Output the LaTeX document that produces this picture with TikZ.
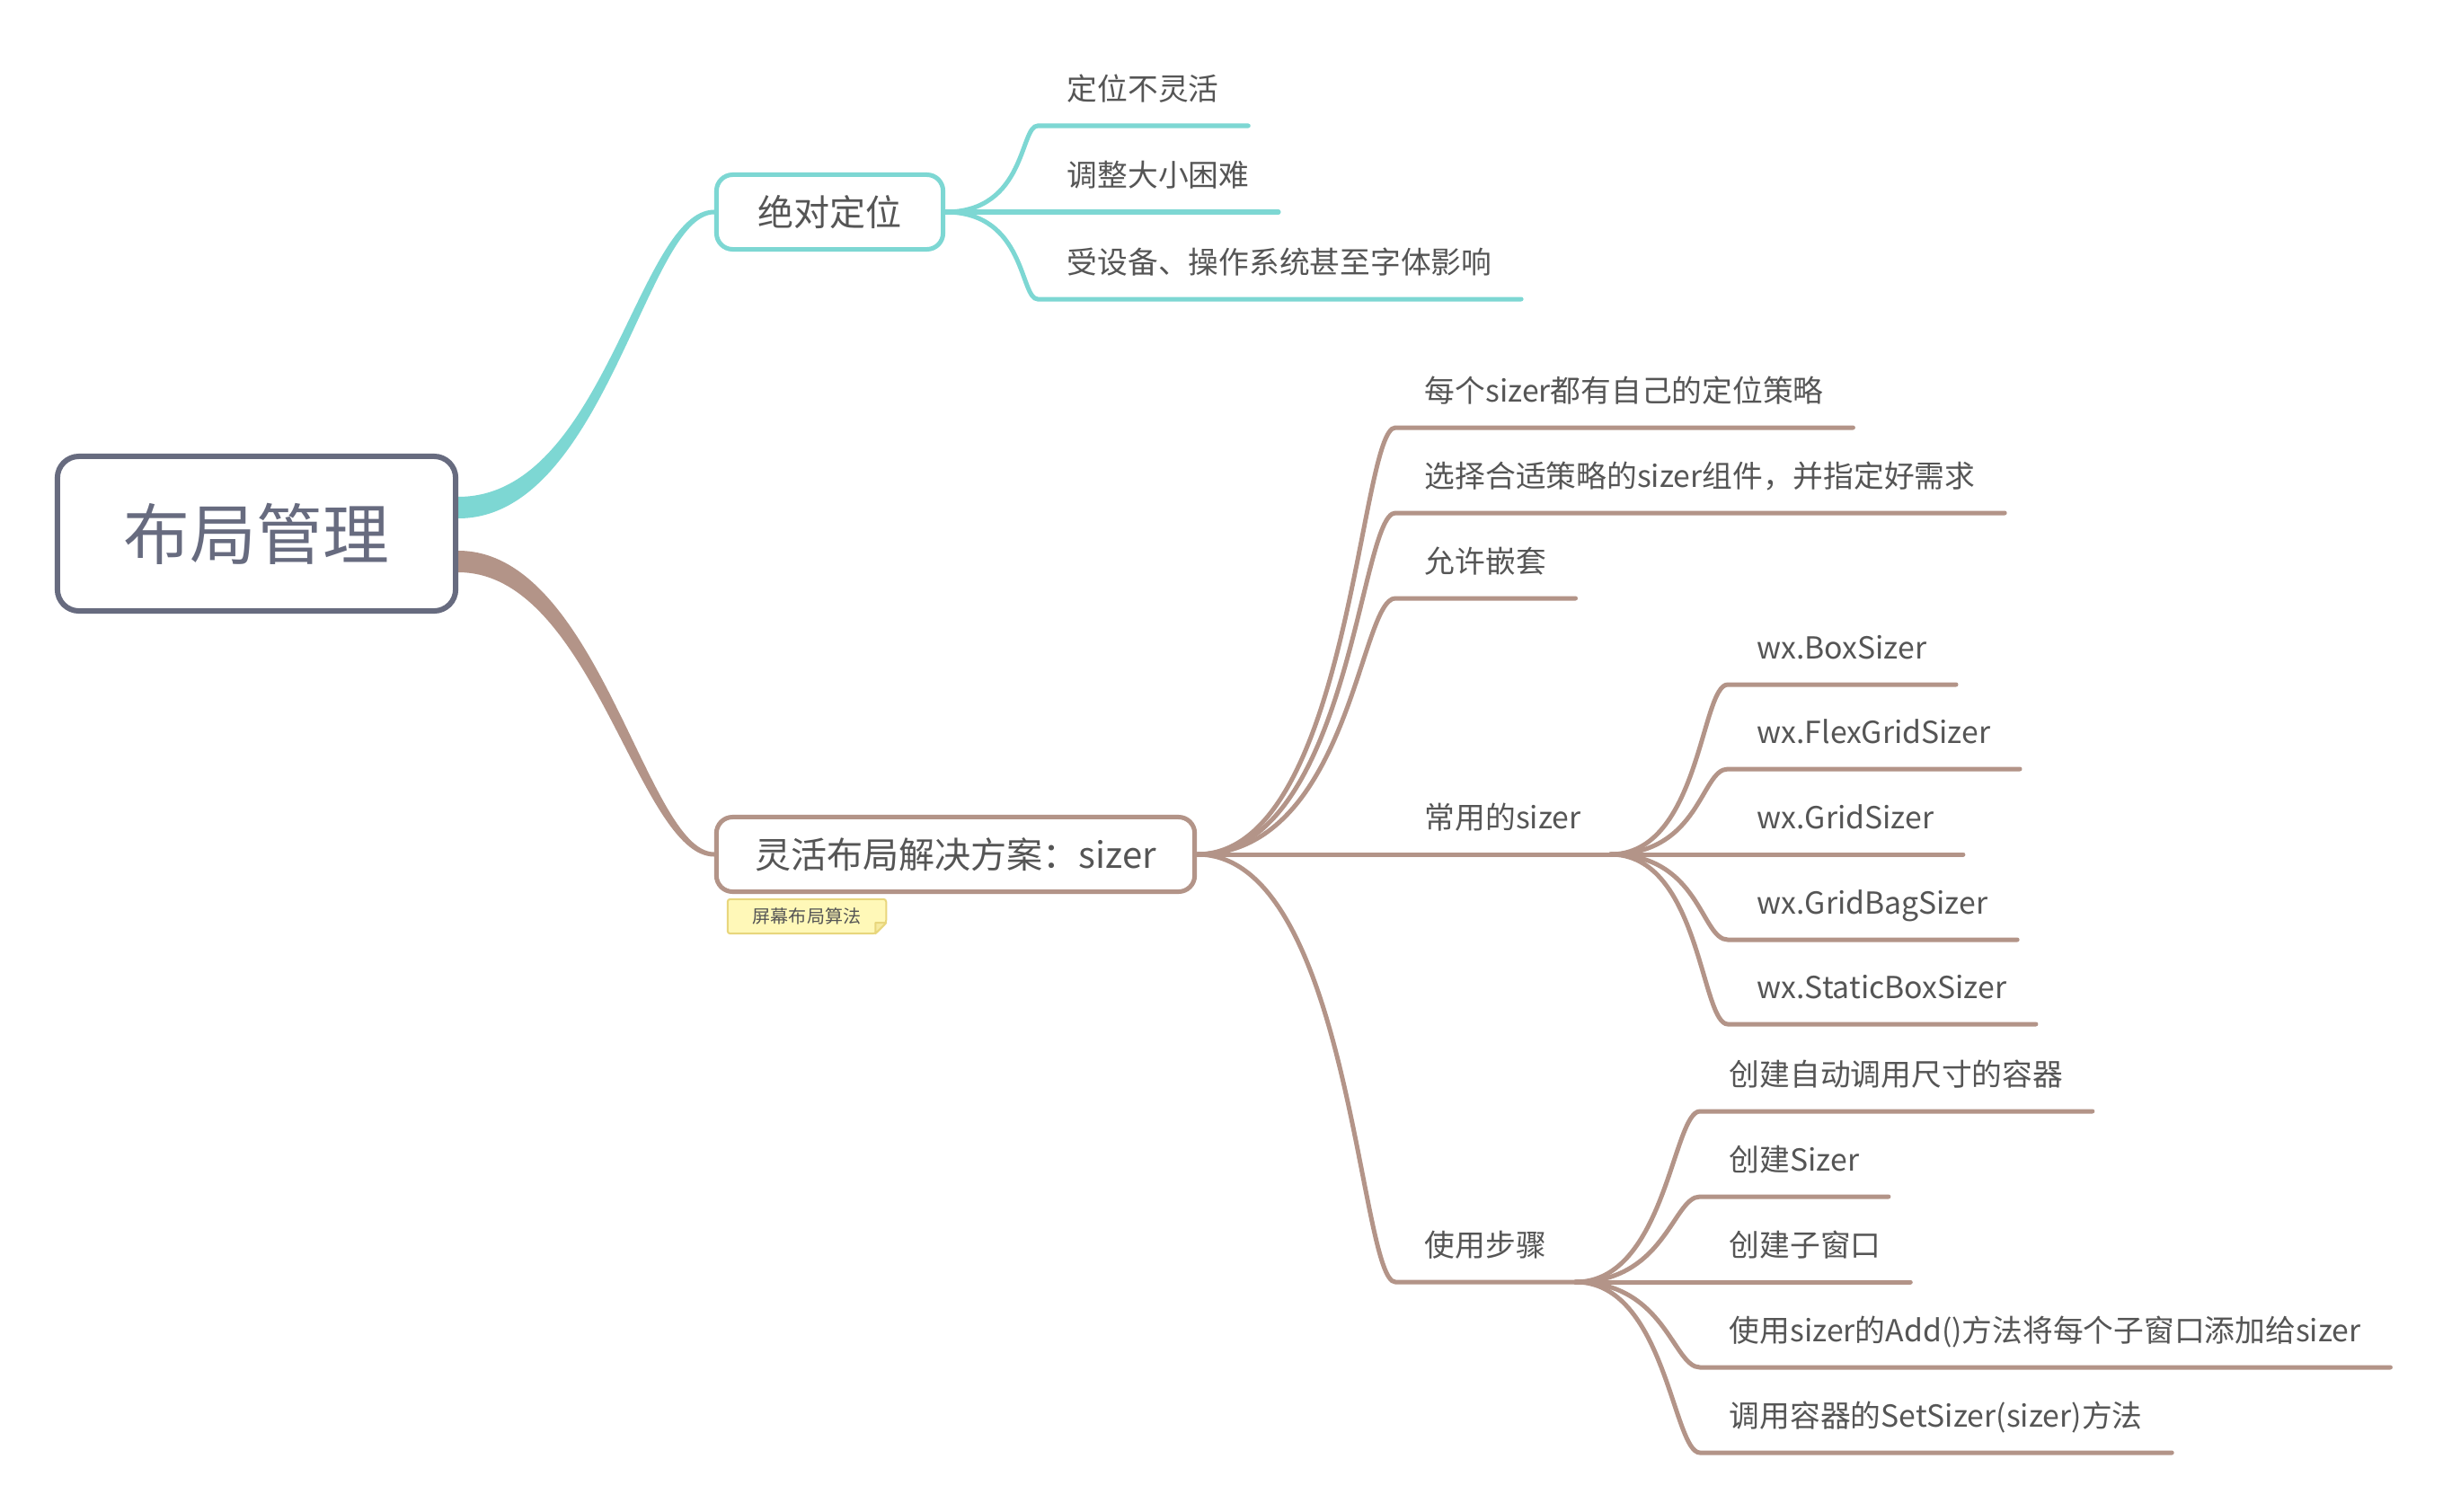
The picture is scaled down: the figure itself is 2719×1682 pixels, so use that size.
\documentclass[tikz,border=0pt]{standalone}
\usepackage{fontspec}
\setmainfont{Noto Sans CJK SC}
\usepackage{xcolor}
\usetikzlibrary{backgrounds}
\definecolor{xmteal}{HTML}{7DD7D3}
\definecolor{xmbrown}{HTML}{B39488}
\definecolor{xmslate}{HTML}{676B7F}
\definecolor{ink}{HTML}{555555}
\definecolor{memofill}{HTML}{FFF8B8}
\definecolor{memoline}{HTML}{E8D67C}

\begin{document}
\begin{tikzpicture}[x=0.01cm,y=-0.01cm,
	box/.style={draw,fill=white,rounded corners=0.18cm,line width=0.05cm,text=ink,inner sep=0pt,minimum height=0.83cm,font=\fontsize{11.4pt}{13pt}\selectfont},
	leaf/.style={anchor=south west,inner xsep=0.32cm,inner ysep=0.28cm,text depth=0pt,text=ink,font=\fontsize{9.6pt}{11pt}\selectfont},
	tbr/.style={draw=xmteal,line width=0.05cm,line cap=round},
	bbr/.style={draw=xmbrown,line width=0.05cm,line cap=round}]

	\useasboundingbox (0,0) rectangle (2719,1682);

	% topics
	\node (root) [draw=xmslate,fill=white,rounded corners=0.24cm,line width=0.06cm,text=xmslate,minimum width=4.43cm,minimum height=1.72cm,font=\fontsize{21pt}{24pt}\selectfont] at (285.5,594) {布局管理};
	\node (absPos) [box,draw=xmteal,minimum width=2.52cm] at (923.5,236) {绝对定位};
	\node (flexLay) [box,draw=xmbrown,minimum width=5.32cm] at (1063.5,951) {灵活布局解决方案：sizer};
	\node (memo) [text=ink,minimum width=1.75cm,minimum height=0.37cm,inner sep=0pt,font=\fontsize{5.7pt}{7pt}\selectfont] at (898,1020) {屏幕布局算法};

	% absolute positioning
	\node (a1) [leaf] at (1155,140) {定位不灵活};
	\node (a2) [leaf] at (1155,236) {调整大小困难};
	\node (a3) [leaf] at (1155,333) {受设备、操作系统甚至字体影响};

	% sizer
	\node (b1) [leaf] at (1553,476) {每个sizer都有自己的定位策略};
	\node (b2) [leaf] at (1553,571) {选择合适策略的sizer组件，并指定好需求};
	\node (b3) [leaf] at (1553,666) {允许嵌套};
	\node (b4) [leaf] at (1553,951) {常用的sizer};
	\node (b5) [leaf] at (1553,1427) {使用步骤};

	\node (s1) [leaf] at (1923,762) {wx.BoxSizer};
	\node (s2) [leaf] at (1923,856) {wx.FlexGridSizer};
	\node (s3) [leaf] at (1923,951) {wx.GridSizer};
	\node (s4) [leaf] at (1923,1046) {wx.GridBagSizer};
	\node (s5) [leaf] at (1923,1140) {wx.StaticBoxSizer};

	\node (u1) [leaf] at (1892,1237) {创建自动调用尺寸的容器};
	\node (u2) [leaf] at (1892,1332) {创建Sizer};
	\node (u3) [leaf] at (1892,1427) {创建子窗口};
	\node (u4) [leaf] at (1892,1522) {使用sizer的Add()方法将每个子窗口添加给sizer};
	\node (u5) [leaf] at (1892,1617) {调用容器的SetSizer(sizer)方法};

	\begin{scope}[on background layer]
	\fill[white] (0,0) rectangle (2719,1682);
	% main branches, thick at the root
	\fill[xmteal] ([yshift=0.41cm]root.east) .. controls +(163,0) and +(-85,0) .. ([yshift=0.025cm]absPos.west)
		-- ([yshift=-0.025cm]absPos.west) .. controls +(-75,0) and +(163,0) .. ([yshift=0.17cm]root.east) -- cycle;
	\fill[xmbrown] ([yshift=-0.19cm]root.east) .. controls +(156,0) and +(-75,0) .. ([yshift=0.025cm]flexLay.west)
		-- ([yshift=-0.025cm]flexLay.west) .. controls +(-85,0) and +(150,0) .. ([yshift=-0.43cm]root.east) -- cycle;

	\path[tbr] (absPos.east) .. controls +(90,0) and +(-20,0) .. (a1.south west) -- (a1.south east);
	\path[tbr] (absPos.east) .. controls +(90,0) and +(-20,0) .. (a2.south west) -- (a2.south east);
	\path[tbr] (absPos.east) .. controls +(90,0) and +(-20,0) .. (a3.south west) -- (a3.south east);

	\path[bbr] (flexLay.east) .. controls +(170,0) and +(-40,0) .. (b1.south west) -- (b1.south east);
	\path[bbr] (flexLay.east) .. controls +(170,0) and +(-40,0) .. (b2.south west) -- (b2.south east);
	\path[bbr] (flexLay.east) .. controls +(170,0) and +(-40,0) .. (b3.south west) -- (b3.south east);
	\path[bbr] (flexLay.east) .. controls +(170,0) and +(-40,0) .. (b4.south west) -- (b4.south east);
	\path[bbr] (flexLay.east) .. controls +(170,0) and +(-40,0) .. (b5.south west) -- (b5.south east);

	\path[bbr] (b4.south east) .. controls +(100,0) and +(-30,0) .. (s1.south west) -- (s1.south east);
	\path[bbr] (b4.south east) .. controls +(100,0) and +(-30,0) .. (s2.south west) -- (s2.south east);
	\path[bbr] (b4.south east) .. controls +(100,0) and +(-30,0) .. (s3.south west) -- (s3.south east);
	\path[bbr] (b4.south east) .. controls +(100,0) and +(-30,0) .. (s4.south west) -- (s4.south east);
	\path[bbr] (b4.south east) .. controls +(100,0) and +(-30,0) .. (s5.south west) -- (s5.south east);

	\path[bbr] (b5.south east) .. controls +(100,0) and +(-30,0) .. (u1.south west) -- (u1.south east);
	\path[bbr] (b5.south east) .. controls +(100,0) and +(-30,0) .. (u2.south west) -- (u2.south east);
	\path[bbr] (b5.south east) .. controls +(100,0) and +(-30,0) .. (u3.south west) -- (u3.south east);
	\path[bbr] (b5.south east) .. controls +(100,0) and +(-30,0) .. (u4.south west) -- (u4.south east);
	\path[bbr] (b5.south east) .. controls +(100,0) and +(-30,0) .. (u5.south west) -- (u5.south east);

	% note with folded corner
	\draw[draw=memoline,fill=memofill,line width=0.02cm,rounded corners=0.03cm] (memo.north west) -- (memo.north east) -- ([yshift=0.12cm]memo.south east) -- ([xshift=-0.12cm]memo.south east) -- (memo.south west) -- cycle;
	\draw[draw=memoline,fill=memofill!60!memoline,line width=0.02cm,line join=round] ([yshift=0.12cm]memo.south east) -- ([xshift=-0.12cm,yshift=0.12cm]memo.south east) -- ([xshift=-0.12cm]memo.south east) -- cycle;
	\end{scope}

\end{tikzpicture}
\end{document}
